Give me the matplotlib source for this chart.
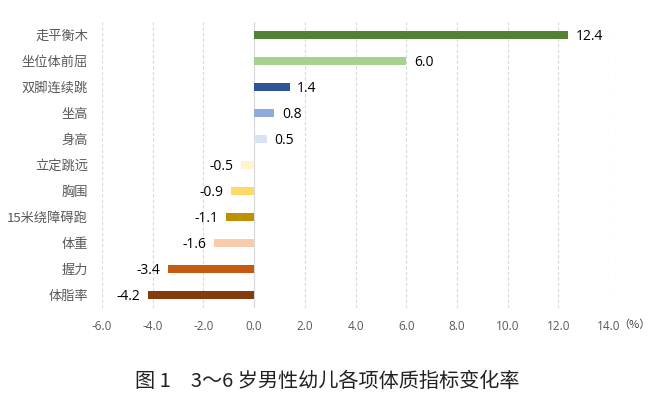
import matplotlib
matplotlib.use("Agg")
import matplotlib.pyplot as plt

plt.rcParams['font.family'] = ['Noto Sans CJK SC', 'DejaVu Sans']

categories = ['走平衡木', '坐位体前屈', '双脚连续跳', '坐高', '身高', '立定跳远',
              '胸围', '15米绕障碍跑', '体重', '握力', '体脂率']
values = [12.4, 6.0, 1.4, 0.8, 0.5, -0.5, -0.9, -1.1, -1.6, -3.4, -4.2]
colors = ['#548235', '#A9D18E', '#2F5597', '#8FAADC', '#DAE3F3', '#FFF2CC',
          '#FFD966', '#BF9000', '#F8CBAD', '#C55A11', '#843C0C']
xticks = [-6, -4, -2, 0, 2, 4, 6, 8, 10, 12, 14]
caption = '图 1　3～6 岁男性幼儿各项体质指标变化率'

fig = plt.figure(figsize=(6.71, 3.99), dpi=100)
ax = fig.add_axes([102/671, 1-308/399, 507/671, 286/399])

n = len(categories)
ypos = list(range(n))[::-1]
ax.barh(ypos, values, height=0.34, color=colors, zorder=3)

for y, v in zip(ypos, values):
    if v >= 0:
        ax.text(v + 0.3, y - 0.07, f'{v:.1f}', va='center', ha='left', fontsize=10,
                family=['Open Sans', 'DejaVu Sans'], color='#000000')
    else:
        ax.text(v - 0.3, y - 0.07, f'{v:.1f}', va='center', ha='right', fontsize=10,
                family=['Open Sans', 'DejaVu Sans'], color='#000000')

ax.set_xlim(-6, 14)
ax.set_ylim(-0.5, n - 0.5)
ax.set_xticks(xticks)
ax.set_xticklabels([f'{t:.1f}' for t in xticks], fontsize=8.5, color='#595959',
                   family=['Open Sans', 'DejaVu Sans'])
ax.set_yticks(ypos)
ax.set_yticklabels(categories, fontsize=9.5, color='#595959')
ax.tick_params(axis='both', length=0)
ax.tick_params(axis='x', pad=9)
ax.tick_params(axis='y', pad=10)

for t in xticks:
    if t == 0:
        ax.axvline(t, color='#D9D9D9', lw=0.9, zorder=2)
    else:
        ax.axvline(t, color='#D9D9D9', lw=0.8, ls=(0, (3, 2)), zorder=1)

for s in ax.spines.values():
    s.set_visible(False)

fig.text(634/671, 1-325/399, '（%）', fontsize=8, color='#404040', ha='center', va='center')
fig.text(327/671, 1-381/399, caption, fontsize=14.5, color='#222222', ha='center', va='center')

fig.savefig('out.png', dpi=100)
